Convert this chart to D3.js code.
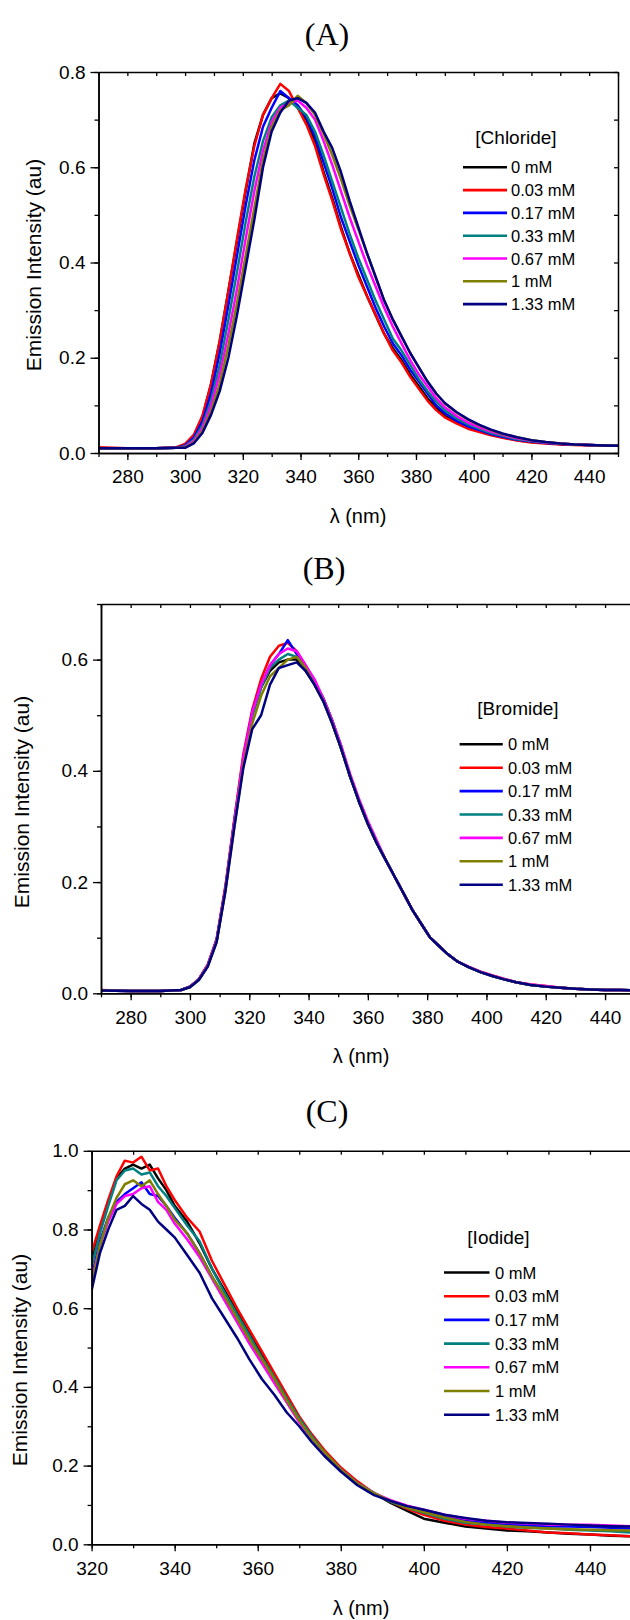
<!DOCTYPE html>
<html>
<head>
<meta charset="utf-8">
<script src="https://cdn.jsdelivr.net/npm/d3@7"></script>
<style>
  body { margin: 0; background: #fff; }
  svg { display: block; }
</style>
</head>
<body>
<div id="chart"></div>
<script>
// ---- data ----
const concentrations = ["0 mM", "0.03 mM", "0.17 mM", "0.33 mM", "0.67 mM", "1 mM", "1.33 mM"];

// wavelengths (nm) shared by panels A and B
const wavelengthAB = [270, 280, 290, 297, 300, 303, 306, 309, 312, 315, 318, 321, 324, 327, 330, 333, 336, 339,
  342, 345, 348, 351, 354, 357, 360, 363, 366, 369, 372, 375, 378, 381, 384, 387, 390, 394, 398, 402, 406, 410,
  415, 420, 425, 430, 435, 440, 445, 450];
// wavelengths (nm) for panel C
const wavelengthC = [320, 322, 324, 326, 328, 330, 332, 334, 336, 338, 340, 343, 346, 349, 352, 355, 358, 361,
  364, 367, 370, 373, 376, 380, 384, 388, 392, 396, 400, 405, 410, 415, 420, 425, 430, 435, 440, 445, 450];

// (A) chloride
const chloride0 = [.010,.010,.010,.011, .017,.035,.075,.145,.235,.34,.445,.55,.65,.71,.745,.755,.745,.725,.70,.655,
  .59,.535,.475,.42,.375,.33,.29,.25,.22,.195,.165,.14,.115,.095,.078, .064,.053,.046,.039,.033,.027,.023,.021,.019,.018,.017,.016,.015];
const chloride003 = [.012,.010,.010,.012, .019,.038,.078,.145,.235,.34,.45,.555,.645,.71,.745,.775,.76,.725,.69,.645,
  .585,.53,.47,.42,.37,.33,.29,.25,.215,.19,.16,.135,.11,.09,.075, .062,.051,.044,.037,.032,.026,.022,.02,.018,.017,.016,.016,.015];
const chloride017 = [.010,.010,.010,.011, .016,.032,.066,.125,.21,.31,.415,.52,.615,.685,.725,.76,.745,.73,.705,.665,
  .61,.555,.495,.445,.395,.35,.305,.265,.23,.205,.175,.15,.125,.10,.084, .068,.056,.048,.04,.034,.028,.024,.021,.019,.018,.017,.016,.015];
const chloride033 = [.010,.010,.010,.011, .014,.028,.058,.11,.185,.28,.38,.485,.58,.655,.705,.73,.74,.725,.71,.675,
  .625,.57,.515,.46,.41,.365,.32,.28,.24,.215,.185,.155,.13,.108,.09, .073,.06,.051,.042,.036,.029,.025,.022,.02,.018,.017,.016,.015];
const chloride067 = [.010,.010,.010,.011, .013,.025,.052,.10,.165,.25,.345,.45,.55,.635,.695,.725,.735,.74,.725,.70,
  .655,.605,.55,.495,.445,.395,.35,.305,.265,.23,.195,.165,.14,.115,.096, .078,.064,.054,.045,.038,.031,.026,.022,.02,.018,.017,.016,.015];
const chloride1 = [.010,.010,.010,.011, .012,.022,.046,.088,.145,.225,.315,.415,.515,.615,.685,.72,.73,.75,.735,.71,
  .67,.625,.575,.52,.47,.42,.37,.32,.28,.245,.21,.18,.15,.125,.104, .085,.07,.058,.048,.04,.033,.027,.023,.02,.018,.017,.016,.015];
const chloride133 = [.010,.010,.010,.011, .011,.02,.042,.08,.13,.20,.29,.39,.49,.60,.675,.715,.74,.745,.735,.715,
  .675,.64,.59,.53,.475,.42,.37,.32,.28,.245,.21,.18,.15,.125,.105, .086,.071,.059,.049,.041,.033,.027,.023,.02,.018,.017,.016,.015];

// (B) bromide
const bromide0 = [.005,.004,.004,.006, .012,.025,.05,.095,.19,.31,.42,.50,.55,.58,.595,.60,.60,.58,.555,.525,
  .485,.44,.39,.345,.305,.27,.24,.21,.18,.15,.125,.10,.085,.07,.058, .047,.038,.031,.025,.02,.015,.012,.01,.008,.007,.006,.006,.005];
const bromide003 = [.006,.004,.004,.006, .012,.026,.052,.098,.195,.315,.43,.51,.565,.605,.625,.63,.615,.59,.56,.53,
  .49,.44,.39,.345,.305,.27,.24,.21,.18,.15,.125,.10,.085,.07,.058, .047,.039,.032,.026,.02,.016,.013,.01,.008,.007,.006,.006,.005];
const bromide017 = [.005,.004,.004,.006, .012,.025,.05,.096,.19,.31,.42,.505,.555,.59,.61,.635,.61,.585,.56,.53,
  .49,.445,.39,.345,.305,.27,.24,.21,.18,.15,.125,.10,.085,.07,.058, .047,.038,.031,.025,.02,.015,.012,.01,.008,.007,.006,.006,.005];
const bromide033 = [.005,.004,.004,.006, .012,.025,.05,.095,.19,.31,.42,.50,.55,.585,.60,.61,.605,.585,.56,.53,
  .49,.44,.39,.345,.305,.27,.24,.21,.18,.15,.125,.10,.085,.07,.058, .047,.038,.031,.025,.02,.015,.012,.01,.008,.007,.006,.006,.005];
const bromide067 = [.005,.004,.004,.006, .012,.025,.05,.095,.19,.31,.425,.505,.555,.59,.61,.62,.615,.59,.565,.53,
  .49,.445,.395,.35,.31,.275,.24,.21,.18,.15,.125,.10,.085,.07,.058, .048,.039,.032,.026,.02,.016,.013,.01,.008,.007,.006,.006,.005];
const bromide1 = [.005,.004,.004,.006, .011,.024,.048,.092,.185,.30,.41,.485,.535,.57,.585,.60,.605,.585,.555,.525,
  .485,.44,.39,.345,.305,.27,.24,.21,.18,.15,.125,.10,.085,.07,.058, .047,.038,.031,.025,.02,.015,.012,.01,.008,.007,.006,.006,.005];
const bromide133 = [.005,.004,.004,.006, .011,.024,.048,.092,.185,.30,.405,.475,.50,.555,.585,.59,.595,.58,.555,.525,
  .485,.44,.39,.345,.305,.27,.24,.21,.18,.15,.125,.10,.085,.07,.058, .047,.038,.031,.025,.02,.015,.012,.01,.008,.007,.006,.006,.005];

// (C) iodide
const iodide0 = [.72,.80,.87,.93,.955,.965,.955,.965,.93,.90,.86, .82,.765,.70,.645,.59,.535,.48,.43,.375,.32,.275,.235,
  .19,.155,.13,.105,.085,.065, .055,.045,.04,.035,.033,.03,.027,.025,.022,.02];
const iodide003 = [.74,.81,.875,.935,.975,.97,.985,.95,.955,.91,.875, .83,.795,.72,.66,.60,.545,.49,.435,.38,.325,.28,.24,
  .195,.16,.13,.108,.09,.075, .06,.05,.044,.04,.035,.03,.028,.025,.023,.02];
const iodide017 = [.68,.77,.83,.87,.89,.905,.92,.89,.885,.86,.83, .79,.74,.68,.625,.57,.515,.465,.415,.365,.315,.27,.23,
  .19,.155,.13,.11,.095,.085, .07,.06,.055,.05,.048,.045,.045,.044,.042,.04];
const iodide033 = [.705,.79,.86,.925,.95,.955,.94,.945,.91,.885,.855, .81,.77,.70,.64,.585,.53,.475,.425,.37,.32,.275,.235,
  .19,.155,.13,.108,.093,.08, .065,.055,.05,.045,.042,.04,.037,.035,.033,.03];
const iodide067 = [.67,.76,.82,.865,.885,.89,.905,.91,.87,.85,.815, .775,.73,.675,.62,.565,.51,.46,.41,.36,.31,.27,.23,
  .19,.155,.13,.112,.098,.088, .075,.065,.06,.055,.053,.05,.05,.05,.048,.046];
const iodide1 = [.66,.76,.83,.88,.915,.925,.91,.925,.89,.86,.825, .79,.74,.68,.63,.575,.52,.47,.42,.365,.315,.27,.235,
  .19,.155,.13,.11,.093,.082, .068,.057,.05,.046,.043,.04,.038,.037,.036,.035];
const iodide133 = [.645,.74,.80,.85,.86,.885,.865,.85,.82,.80,.78, .735,.69,.625,.575,.525,.47,.42,.38,.335,.30,.26,.225,
  .185,.15,.125,.11,.097,.088, .075,.067,.06,.056,.054,.052,.05,.048,.046,.045];

// axis tick labels
const xTicksAB = [280, 300, 320, 340, 360, 380, 400, 420, 440];
const xTicksC = [320, 340, 360, 380, 400, 420, 440];
const yTicksA = [0.0, 0.2, 0.4, 0.6, 0.8];
const yTicksB = [0.0, 0.2, 0.4, 0.6];
const yTicksC = [0.0, 0.2, 0.4, 0.6, 0.8, 1.0];

// ---- styles ----
const lineColors = ["#000000", "#ff0000", "#0000ff", "#008080", "#ff00ff", "#808000", "#000080"];
const SANS = "'Liberation Sans', Arial, Helvetica, sans-serif";
const SERIF = "'Liberation Serif', 'Times New Roman', serif";

const W = 630, H = 1620;
const svg = d3.select("#chart").append("svg")
  .attr("width", W)
  .attr("height", H)
  .attr("viewBox", [0, 0, W, H]);

const panels = [
  {id: "A", title: "(A)", titleX: 327, titleY: 45,
   left: 98.5, right: 618, top: 72, bottom: 453,
   xDomain: [270, 450], yDomain: [0, 0.8], xTicks: xTicksAB, yTicks: yTicksA,
   wl: wavelengthAB,
   series: [chloride0, chloride003, chloride017, chloride033, chloride067, chloride1, chloride133],
   legendTitle: "[Chloride]", legTitleX: 516, legTitleY: 137, legY0: 167.3, legDy: 22.8,
   legX1: 463, legX2: 507, legTextX: 511,
   yLabelX: 33, yLabelY: 265, xLabelX: 358, xLabelY: 516},
  {id: "B", title: "(B)", titleX: 324, titleY: 579,
   left: 101, right: 634.7, top: 604, bottom: 993.3,
   xDomain: [270, 450], yDomain: [0, 0.7], xTicks: xTicksAB, yTicks: yTicksB,
   wl: wavelengthAB,
   series: [bromide0, bromide003, bromide017, bromide033, bromide067, bromide1, bromide133],
   legendTitle: "[Bromide]", legTitleX: 518, legTitleY: 708, legY0: 744.3, legDy: 23.4,
   legX1: 459.6, legX2: 502.8, legTextX: 508,
   yLabelX: 21, yLabelY: 802, xLabelX: 361, xLabelY: 1056},
  {id: "C", title: "(C)", titleX: 327, titleY: 1122,
   left: 91.6, right: 631.5, top: 1150.8, bottom: 1544.3,
   xDomain: [320, 450], yDomain: [0, 1.0], xTicks: xTicksC, yTicks: yTicksC,
   wl: wavelengthC,
   series: [iodide0, iodide003, iodide017, iodide033, iodide067, iodide1, iodide133],
   legendTitle: "[Iodide]", legTitleX: 498.5, legTitleY: 1237, legY0: 1272.5, legDy: 23.7,
   legX1: 444, legX2: 489.5, legTextX: 495,
   yLabelX: 19, yLabelY: 1360, xLabelX: 361, xLabelY: 1608}
];

function drawPanel(p) {
  const x = d3.scaleLinear().domain(p.xDomain).range([p.left, p.right]);
  const y = d3.scaleLinear().domain(p.yDomain).range([p.bottom, p.top]);
  const g = svg.append("g").attr("id", `panel-${p.id}`);

  g.append("clipPath").attr("id", `clip-${p.id}`)
    .append("rect")
    .attr("x", p.left).attr("y", p.top)
    .attr("width", p.right - p.left).attr("height", p.bottom - p.top);

  const line = d3.line()
    .x(d => x(d[0]))
    .y(d => y(d[1]));

  p.series.forEach((vals, k) => {
    if (vals.length !== p.wl.length) console.error(p.id, k, vals.length, p.wl.length);
    g.append("path")
      .datum(p.wl.map((w, i) => [w, vals[i]]))
      .attr("clip-path", `url(#clip-${p.id})`)
      .attr("fill", "none")
      .attr("stroke", lineColors[k])
      .attr("stroke-width", 2.5)
      .attr("stroke-linejoin", "round")
      .attr("d", line);
  });

  const xMinor = x.ticks((p.xDomain[1] - p.xDomain[0]) / 10);
  const yMinor = y.ticks(Math.round((p.yDomain[1] - p.yDomain[0]) / 0.1));

  const styleAxis = sel => {
    sel.select(".domain").attr("stroke-width", 1.5);
    sel.selectAll(".tick line").attr("stroke-width", 1.3);
    sel.selectAll(".tick text").attr("font-family", SANS).attr("font-size", 19).attr("fill", "#000");
  };

  // bottom
  g.append("g").attr("transform", `translate(0,${p.bottom})`)
    .call(d3.axisBottom(x).tickValues(xMinor).tickSize(4).tickSizeOuter(0).tickFormat(""))
    .call(styleAxis);
  g.append("g").attr("transform", `translate(0,${p.bottom})`)
    .call(d3.axisBottom(x).tickValues(p.xTicks).tickSize(7).tickSizeOuter(0).tickPadding(10).tickFormat(d3.format("d")))
    .call(styleAxis);
  // left
  g.append("g").attr("transform", `translate(${p.left},0)`)
    .call(d3.axisLeft(y).tickValues(yMinor).tickSize(4).tickSizeOuter(0).tickFormat(""))
    .call(styleAxis);
  g.append("g").attr("transform", `translate(${p.left},0)`)
    .call(d3.axisLeft(y).tickValues(p.yTicks).tickSize(8).tickSizeOuter(0).tickPadding(5).tickFormat(d3.format(".1f")))
    .call(styleAxis);
  // top and right mirrors, ticks inward (right side is cropped off in B and C)
  g.append("g").attr("transform", `translate(0,${p.top})`)
    .call(d3.axisTop(x).tickValues(xMinor).tickSize(-4).tickSizeOuter(0).tickFormat(""))
    .call(styleAxis);
  if (p.right < W - 2) {
    g.append("g").attr("transform", `translate(${p.right},0)`)
      .call(d3.axisRight(y).tickValues(yMinor).tickSize(-4).tickSizeOuter(0).tickFormat(""))
      .call(styleAxis);
  }

  // titles
  g.append("text")
    .attr("x", p.titleX).attr("y", p.titleY)
    .attr("text-anchor", "middle")
    .attr("font-family", SERIF).attr("font-size", 32)
    .text(p.title);

  g.append("text")
    .attr("transform", `translate(${p.yLabelX},${p.yLabelY}) rotate(-90)`)
    .attr("text-anchor", "middle")
    .attr("dominant-baseline", "central")
    .attr("font-family", SANS).attr("font-size", 21)
    .text("Emission Intensity (au)");

  g.append("text")
    .attr("x", p.xLabelX).attr("y", p.xLabelY)
    .attr("text-anchor", "middle")
    .attr("dominant-baseline", "central")
    .attr("font-family", SANS).attr("font-size", 20)
    .text("λ (nm)");

  // legend
  const leg = g.append("g");
  leg.append("text")
    .attr("x", p.legTitleX).attr("y", p.legTitleY)
    .attr("text-anchor", "middle")
    .attr("dominant-baseline", "central")
    .attr("font-family", SANS).attr("font-size", 19)
    .text(p.legendTitle);
  const rows = leg.selectAll("g.row")
    .data(concentrations)
    .join("g")
    .attr("class", "row")
    .attr("transform", (d, i) => `translate(0,${p.legY0 + i * p.legDy})`);
  rows.append("line")
    .attr("x1", p.legX1).attr("x2", p.legX2)
    .attr("stroke", (d, i) => lineColors[i])
    .attr("stroke-width", 2.6);
  rows.append("text")
    .attr("x", p.legTextX)
    .attr("dominant-baseline", "central")
    .attr("font-family", SANS).attr("font-size", 16.5)
    .text(d => d);
}

panels.forEach(drawPanel);
</script>
</body>
</html>
